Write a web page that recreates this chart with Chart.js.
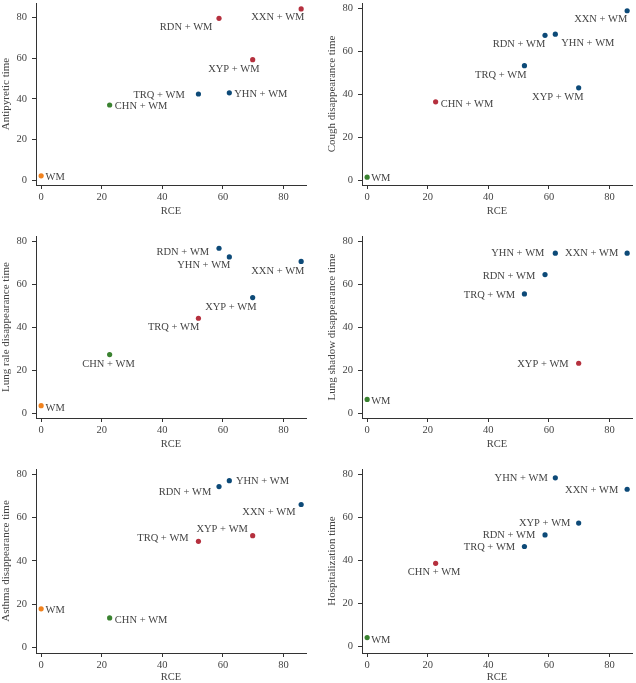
<!DOCTYPE html>
<html>
<head>
<meta charset="utf-8">
<script src="https://cdn.jsdelivr.net/npm/chart.js@4.4.1/dist/chart.umd.min.js"></script>
<style>
  html, body { margin: 0; padding: 0; background: #fff; }
  body { width: 636px; height: 683px; position: relative; overflow: hidden; }
  canvas.panel { position: absolute; }
</style>
</head>
<body>
<canvas id="p1" class="panel"></canvas>
<canvas id="p2" class="panel"></canvas>
<canvas id="p3" class="panel"></canvas>
<canvas id="p4" class="panel"></canvas>
<canvas id="p5" class="panel"></canvas>
<canvas id="p6" class="panel"></canvas>
<script>
// ---- data (order: WM, CHN, TRQ, RDN, YHN, XYP, XXN) ----
const categories = ['WM', 'CHN + WM', 'TRQ + WM', 'RDN + WM', 'YHN + WM', 'XYP + WM', 'XXN + WM'];
const rce = [0, 22.6, 51.9, 58.7, 62.1, 69.8, 85.8];

const antipyretic = [2.1, 37.0, 42.4, 79.7, 43.0, 59.3, 84.3];
const cough       = [1.5, 36.5, 53.3, 67.4, 67.9, 43.0, 78.8];
const lungRale    = [3.6, 27.3, 44.2, 76.7, 72.7, 53.8, 70.6];
const lungShadow  = [6.5, null, 55.5, 64.5, 74.4, 23.3, 74.4];
const asthma      = [17.8, 13.6, 49.0, 74.3, 77.0, 51.6, 66.0];
const hospital    = [4.1, 38.6, 46.4, 51.8, 78.3, 57.3, 73.0];

// cluster each point belongs to in each panel
const antipyreticGroup = ['o', 'g', 'b', 'r', 'b', 'r', 'r'];
const coughGroup       = ['g', 'r', 'b', 'b', 'b', 'b', 'b'];
const lungRaleGroup    = ['o', 'g', 'r', 'b', 'b', 'b', 'b'];
const lungShadowGroup  = ['g', null, 'b', 'b', 'b', 'r', 'b'];
const asthmaGroup      = ['o', 'g', 'r', 'b', 'b', 'r', 'b'];
const hospitalGroup    = ['g', 'r', 'b', 'b', 'b', 'b', 'b'];

const xTicks = [0, 20, 40, 60, 80];
const yTicks = [0, 20, 40, 60, 80];

// ---- styling ----
const palette = { b: '#0d4a78', r: '#b5303e', g: '#3a8230', o: '#f0821e' };
const FONT = 'Liberation Serif';
const TEXT = '#444';
const AXIS = '#333';

// label offsets (text centre relative to point, px)
const offs1 = [[14, 1], [31.5, 1], [-39.3, 0.7], [-32.9, 8.6], [31.5, 1], [-18.8, 8.7], [-23.3, 8.3]];
const offs2 = [[13.6, 0.7], [31.3, 1.7], [-23.6, 8.7], [-26, 8], [32.5, 9], [-20.9, 9.3], [-26.4, 8]];
const offs3 = [[14, 2], [-1.2, 9], [-24.8, 9], [-36.2, 3.6], [-25.5, 7.7], [-21.8, 9], [-23.3, 9.3]];
const offs4 = [[13.6, 1], null, [-35, 0.4], [-36, 1.4], [-37.5, -0.4], [-35.7, 0.7], [-35.5, 0]];
const offs5 = [[14, 1.3], [31.5, 1.7], [-35.5, -3.3], [-34, 5.3], [33.2, 0.3], [-30.5, -7], [-32.2, 7]];
const offs6 = [[13.6, 1.7], [-1.5, 8.7], [-35, 0.4], [-36, 0], [-34.2, 0.3], [-34, 0], [-35.5, 0.3]];

const panels = [
  { id: 'p1', title: 'Antipyretic time', values: antipyretic, groups: antipyreticGroup, offs: offs1, left: 0, top: -1, h: 186, xh: 33, ymin: -2.41, ymax: 87.23 },
  { id: 'p2', title: 'Cough disappearance time', values: cough, groups: coughGroup, offs: offs2, left: 326, top: -1, h: 186, xh: 33, ymin: -2.14, ymax: 82.4 },
  { id: 'p3', title: 'Lung rale disappearance time', values: lungRale, groups: lungRaleGroup, offs: offs3, left: 0, top: 232, h: 186, xh: 33, ymin: -2.14, ymax: 82.4 },
  { id: 'p4', title: 'Lung shadow disappearance time', values: lungShadow, groups: lungShadowGroup, offs: offs4, left: 326, top: 232, h: 186, xh: 33, ymin: -2.14, ymax: 82.4 },
  { id: 'p5', title: 'Asthma disappearance time', values: asthma, groups: asthmaGroup, offs: offs5, left: 0, top: 465, h: 188, xh: 31, ymin: -2.58, ymax: 82.4 },
  { id: 'p6', title: 'Hospitalization time', values: hospital, groups: hospitalGroup, offs: offs6, left: 326, top: 465, h: 188, xh: 31, ymin: -3.05, ymax: 82.4 }
];

// draws the text label next to each point
const pointLabels = {
  id: 'pointLabels',
  afterDatasetsDraw(chart) {
    const ctx = chart.ctx;
    const meta = chart.getDatasetMeta(0);
    const ds = chart.data.datasets[0];
    ctx.save();
    ctx.font = '10.5px "' + FONT + '"';
    ctx.fillStyle = TEXT;
    ctx.textAlign = 'center';
    ctx.textBaseline = 'middle';
    meta.data.forEach((el, i) => {
      const o = ds.offs[i];
      ctx.fillText(ds.names[i], el.x + o[0], el.y + o[1] + 0.5);
    });
    ctx.restore();
  }
};

panels.forEach(p => {
  const canvas = document.getElementById(p.id);
  canvas.width = 310;
  canvas.height = p.h + p.xh;
  canvas.style.left = p.left + 'px';
  canvas.style.top = p.top + 'px';

  const idx = categories.map((c, i) => i).filter(i => p.values[i] !== null);

  new Chart(canvas, {
    type: 'scatter',
    data: {
      datasets: [{
        data: idx.map(i => ({ x: rce[i], y: p.values[i] })),
        names: idx.map(i => categories[i]),
        offs: idx.map(i => p.offs[i]),
        pointBackgroundColor: idx.map(i => palette[p.groups[i]]),
        pointBorderWidth: 0,
        pointRadius: 2.6,
        clip: false
      }]
    },
    options: {
      responsive: false,
      animation: false,
      devicePixelRatio: 1,
      layout: { padding: 0 },
      plugins: { legend: { display: false }, tooltip: { enabled: false } },
      scales: {
        x: {
          type: 'linear',
          min: -1.7,
          max: 87.4,
          afterBuildTicks: s => { s.ticks = xTicks.map(v => ({ value: v })); },
          afterFit: s => { s.height = p.xh; s.paddingLeft = 0; s.paddingRight = 0; },
          border: { display: true, color: AXIS, width: 1 },
          grid: { display: true, drawOnChartArea: false, drawTicks: true, tickLength: 4, color: AXIS },
          ticks: { color: TEXT, padding: 1.5, maxRotation: 0, font: { family: FONT, size: 10.5 } },
          title: { display: true, text: 'RCE', color: TEXT, padding: 0, font: { family: FONT, size: 10.5 } }
        },
        y: {
          type: 'linear',
          min: p.ymin,
          max: p.ymax,
          afterBuildTicks: s => { s.ticks = yTicks.map(v => ({ value: v })); },
          afterFit: s => { s.width = 36; s.paddingTop = 0; s.paddingBottom = 0; },
          border: { display: true, color: AXIS, width: 1 },
          grid: { display: true, drawOnChartArea: false, drawTicks: true, tickLength: 4, color: AXIS },
          ticks: { color: TEXT, padding: 5, font: { family: FONT, size: 10.5 } },
          title: { display: true, text: p.title, color: TEXT, padding: 0, font: { family: FONT, size: 11 } }
        }
      }
    },
    plugins: [pointLabels]
  });
});
</script>
</body>
</html>
